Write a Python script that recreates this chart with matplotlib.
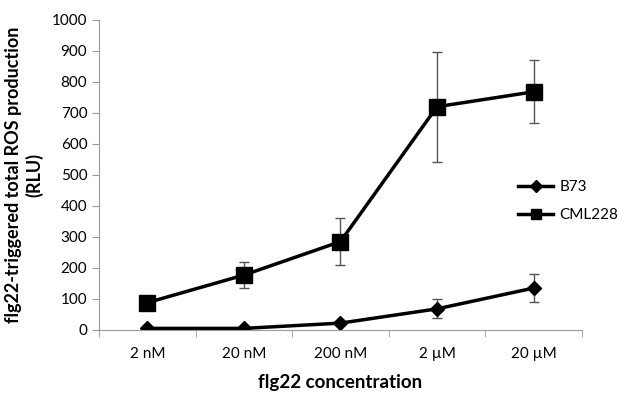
import numpy as np
import matplotlib.pyplot as plt
from matplotlib.lines import Line2D

plt.rcParams['font.family'] = ['Lato', 'DejaVu Sans']

concentrations = ['2 nM', '20 nM', '200 nM', '2 µM', '20 µM']
b73 = [5, 5, 22, 68, 135]
b73_err = [4, 4, 6, 31, 46]
cml228 = [88, 177, 285, 720, 768]
cml228_err = [8, 43, 75, 177, 102]

fig = plt.figure(figsize=(6.27, 3.98), dpi=100)
ax = fig.add_axes([0.158, 0.171, 0.77, 0.779])

x = np.arange(len(concentrations))
ax.errorbar(x, b73, yerr=b73_err, color='black', marker='D', markersize=7,
            linewidth=2.5, ecolor='#555555', elinewidth=1, capsize=3.5,
            capthick=1)
ax.errorbar(x, cml228, yerr=cml228_err, color='black', marker='s', markersize=11,
            linewidth=2.5, ecolor='#555555', elinewidth=1, capsize=3.5,
            capthick=1)

ax.set_xlim(-0.5, len(concentrations) - 0.5)
ax.set_ylim(0, 1000)
ax.set_yticks(range(0, 1001, 100))
ax.set_xticks(x)
ax.set_xticklabels(concentrations)
ax.set_xticks(np.arange(-0.5, len(concentrations), 1), minor=True)
ax.tick_params(axis='x', which='major', length=0, pad=12, labelsize=11)
ax.tick_params(axis='x', which='minor', length=5, color='#999999', direction='out')
ax.tick_params(axis='y', length=5, color='#999999', labelsize=11)

for s in ['top', 'right']:
    ax.spines[s].set_visible(False)
for s in ['left', 'bottom']:
    ax.spines[s].set_color('#999999')

ax.set_xlabel('flg22 concentration', fontsize=13.5, fontweight='bold', labelpad=10)
ax.set_ylabel('flg22-triggered total ROS production\n(RLU)', fontsize=13,
              fontweight='bold', labelpad=6)

handles = [
    Line2D([], [], color='black', marker='D', markersize=6, linewidth=2.5),
    Line2D([], [], color='black', marker='s', markersize=7, linewidth=2.5),
]
ax.legend(handles, ['B73', 'CML228'], loc='center left',
          bbox_to_anchor=(0.84, 0.415), frameon=False, fontsize=11,
          handlelength=2.3, handletextpad=0.4, labelspacing=0.9)

fig.savefig('out.png', dpi=100)
